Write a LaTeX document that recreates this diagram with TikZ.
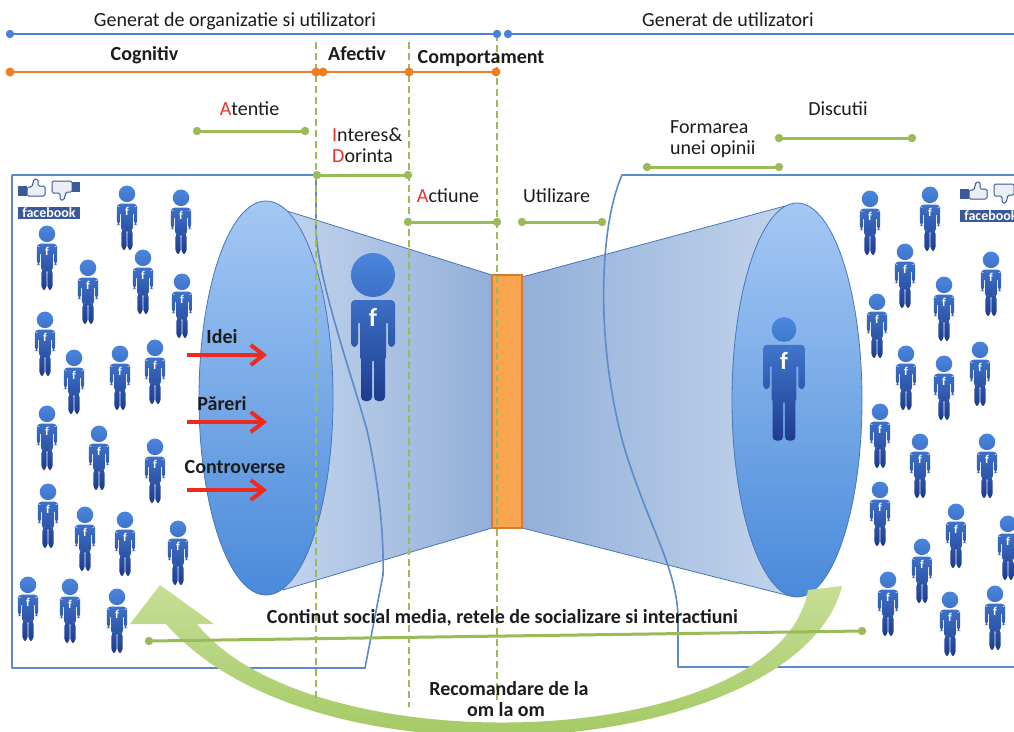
\documentclass[tikz,border=0pt]{standalone}
\usepackage{fontspec}
\setmainfont{Carlito}
\usetikzlibrary{arrows.meta}

\definecolor{txt}{HTML}{1C1C1C}
\definecolor{accent}{HTML}{E8302A}
\definecolor{lineblue}{HTML}{4A7FDB}
\definecolor{lineorange}{HTML}{F07F22}
\definecolor{stagegreen}{HTML}{9BBB59}
\definecolor{panelblue}{HTML}{5B8BC9}
\definecolor{outline}{HTML}{4677B8}
\definecolor{fbblue}{HTML}{3B5998}
\definecolor{persontop}{HTML}{4A86DE}
\definecolor{personbot}{HTML}{1E3C8E}
\definecolor{arrowred}{HTML}{EE2A1E}
\definecolor{orangebar}{HTML}{F9A44F}
\definecolor{orangeedge}{HTML}{D67A2C}
\definecolor{conelight}{HTML}{C2D4EC}
\definecolor{conedark}{HTML}{93AFD8}
\definecolor{ovaltop}{HTML}{A4C8F4}
\definecolor{ovalbot}{HTML}{4A8ADA}
\definecolor{recgreen}{HTML}{96C150}
\definecolor{recgreenlight}{HTML}{C6DE96}

\tikzset{
  lbl/.style={anchor=base, inner sep=0pt, text=txt},
  lblb/.style={lbl, font=\fontsize{20}{23}\selectfont\bfseries},
  timeline/.style={line width=2.4pt, line cap=round},
  stagebar/.style={stagegreen, line width=3pt, line cap=round},
  guide/.style={stagegreen, line width=2pt, dash pattern=on 7pt off 4pt},
  panel/.style={panelblue, line width=1.6pt, line join=round},
  funneledge/.style={draw=outline, line width=0.8pt},
  redarrow/.style={arrowred, line width=4pt, -{Straight Barb[length=13pt,width=20pt]}},
  pics/person/.style={code={
    \shade[top color=persontop, bottom color=personbot]
      (0,22-#1) circle[radius=#1]
      [rounded corners=4] (-22,25) rectangle (22,48)
      (-22,30) rectangle (-15,72)
      (15,30) rectangle (22,72)
      (-13,30) rectangle (13,86)
      (-12,80) rectangle (-1,126)
      (1,80) rectangle (12,126);
    \node[transform shape, text=white, inner sep=0pt,
          font=\fontsize{26}{26}\selectfont\bfseries] at (0,42) {f};
  }},
  pics/person/.default=22,
  pics/fblogo/.style={code={
    \fill[fbblue] (0,8) rectangle (9,18);
    \draw[fbblue, fill=white!90!fbblue, line width=1pt, rounded corners=1.5pt]
      (9,9) -- (14,9) -- (16,1) -- (20,1) -- (20,8) -- (27,8) -- (27,18) -- (9,18) -- cycle;
    \draw[fbblue, fill=white!90!fbblue, line width=1pt, rounded corners=1.5pt]
      (34,3) -- (54,3) -- (54,14) -- (48,14) -- (46,22) -- (42,22) -- (42,15) -- (34,15) -- cycle;
    \fill[fbblue] (54,4) rectangle (62,14);
    \fill[fbblue] (0,29) rectangle (62,41);
    \node[text=white, inner sep=0pt, font=\fontsize{14}{14}\selectfont\bfseries] at (31,34.5) {facebook};
  }}
}

\begin{document}
\begin{tikzpicture}[x=1pt, y=-1pt, font=\fontsize{20}{23}\selectfont]
\useasboundingbox (0,0) rectangle (1014,731);
\fill[white] (0,0) rectangle (1014,731);

% crowds of users on both sides
\foreach \px/\py in {127/192,181/196,47/232,88/266,143/256,182/280,45/318,74/356,
  120/352,155/346,47/412,99/432,155/445,48/490,85/513,125/518,178/527,28/583,70/585,117/595}
  \pic[scale=0.46] at (\px,\py) {person=18};
\foreach \px/\py in {870/197,930/193,905/250,991/258,944/283,877/300,906/352,944/362,
  980/348,880/410,920/440,987/440,880/488,956/510,1008/522,922/545,888/578,950/598,995/592}
  \pic[scale=0.46] at (\px,\py) {person=18};

% facebook badges
\pic at (18,178) {fblogo};
\pic at (960,181) {fblogo};

% funnel: two cones meeting at the orange bar
\shade[left color=conelight, right color=conedark, funneledge]
  (287,211) -- (492,275) -- (492,528) -- (283,590) -- cycle;
\shade[left color=conedark, right color=conelight, funneledge]
  (522,277) -- (785,206) -- (790,596) -- (522,528) -- cycle;
\shade[top color=ovaltop, bottom color=ovalbot, funneledge]
  (266,398) ellipse[x radius=67, y radius=197];
\shade[top color=ovaltop, bottom color=ovalbot, funneledge]
  (797,400) ellipse[x radius=65, y radius=197];
\draw[fill=orangebar, draw=orangeedge, line width=1.2pt] (492,275) rectangle (522,528);

% highlighted users inside the funnel
\pic at (373,275) {person=22};
\pic[scale=0.95] at (784,321) {person=13};

% panel outlines
\draw[panel] (365,668) -- (12,668) -- (12,175) -- (316,175) -- (316,230)
  .. controls (318,280) and (350,370) .. (367,430)
  .. controls (378,480) and (384,530) .. (383,575) -- cycle;
\draw[panel] (1020,175) -- (622,175)
  .. controls (598,230) and (596,350) .. (625,450)
  .. controls (650,530) and (678,570) .. (678,620) -- (678,667) -- (1020,667);

% word-of-mouth arrow
\shade[top color=recgreenlight, bottom color=recgreen]
  (160,585) -- (214,624) -- (197,624)
  .. controls (312,768) and (780,752) .. (808,590)
  -- (842,586)
  .. controls (800,755) and (320,800) .. (166,624)
  -- (130,624) -- cycle;

% stage separators
\draw[guide] (316,42) -- (316,703);
\draw[guide] (409,42) -- (409,707);
\draw[guide] (497,34) -- (497,700);

% top timelines
\draw[timeline, lineblue] (10,34) -- (497,34);
\draw[timeline, lineblue] (508,34) -- (1014,34);
\foreach \bx in {10,497,508} \fill[lineblue] (\bx,34) circle[radius=4.2];
\draw[timeline, lineorange] (10,72) -- (316,72);
\draw[timeline, lineorange] (323,72) -- (496,72);
\foreach \bx in {10,316,323,409,496} \fill[lineorange] (\bx,72) circle[radius=4.5];

% stage bars
\foreach \ax/\ay/\bx/\by in {197/131/305/131, 317/175/408/175, 408/222/497/222,
  522/222/602/222, 647/167/779/167, 779/138/912/138, 149/641/862/631} {
  \draw[stagebar] (\ax,\ay) -- (\bx,\by);
  \fill[stagegreen] (\ax,\ay) circle[radius=4.2] (\bx,\by) circle[radius=4.2];
}

% labels
\node[lbl] (genorg) at (235,26.5) {Generat de organizatie si utilizatori};
\node[lbl] (genusr) at (728,26.5) {Generat de utilizatori};
\node[lblb] (cog) at (144.5,60) {Cognitiv};
\node[lblb] (afe) at (357,60) {Afectiv};
\node[lblb] (comp) at (481,63.5) {Comportament};
\node[lbl] (aten) at (249.5,115) {\textcolor{accent}{A}tentie};
\node[lbl, anchor=base west] (inter) at (332,141) {\textcolor{accent}{I}nteres\&};
\node[lbl, anchor=base west] (dor) at (332,162) {\textcolor{accent}{D}orinta};
\node[lbl] (act) at (448,202) {\textcolor{accent}{A}ctiune};
\node[lbl] (util) at (556.5,202) {Utilizare};
\node[lbl, anchor=base west] (form) at (670,133) {Formarea};
\node[lbl, anchor=base west] (opin) at (670,154) {unei opinii};
\node[lbl] (disc) at (838,115) {Discutii};
\node[lblb] (cont) at (502.5,623) {Continut social media, retele de socializare si interactiuni};
\node[lblb] (rec1) at (509,695) {Recomandare de la};
\node[lblb] (rec2) at (506,716) {om la om};

% inputs entering the funnel
\node[lblb] (idei) at (222,343) {Idei};
\node[lblb] (parer) at (222,410) {Păreri};
\node[lblb] (contr) at (235,473) {Controverse};
\coordinate (ideiA) at (187,355);   \coordinate (ideiB) at (267,355);
\coordinate (parA) at (187,422);    \coordinate (parB) at (267,422);
\coordinate (contA) at (187,490);   \coordinate (contB) at (267,490);
\draw[redarrow] (ideiA) -- (ideiB);
\draw[redarrow] (parA) -- (parB);
\draw[redarrow] (contA) -- (contB);
\end{tikzpicture}
\end{document}
